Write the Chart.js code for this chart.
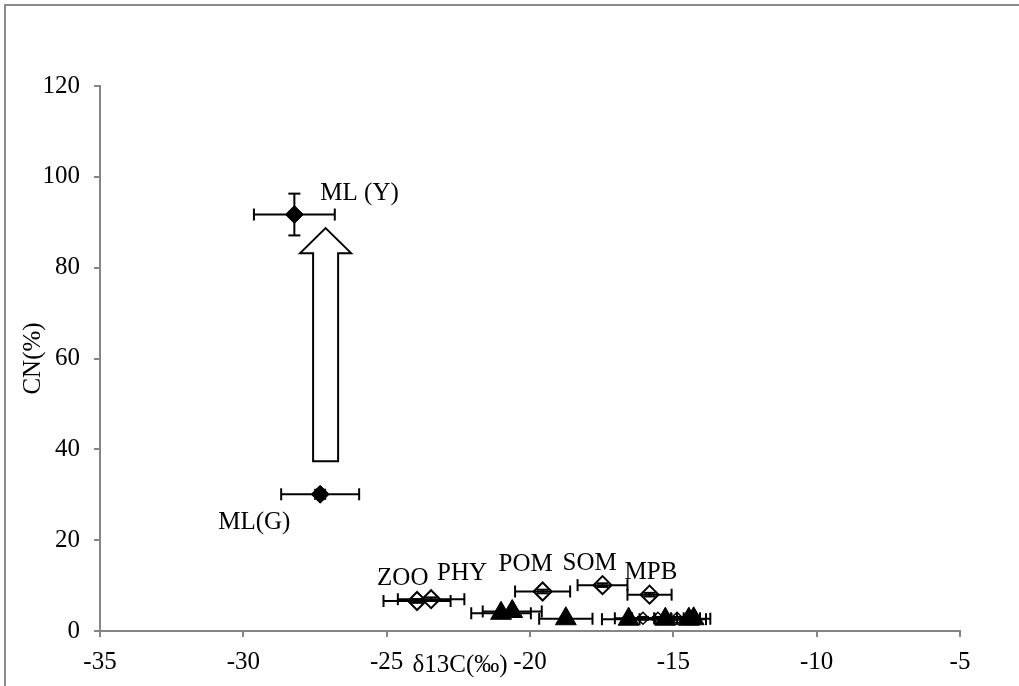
<!DOCTYPE html>
<html>
<head>
<meta charset="utf-8">
<script src="https://cdn.jsdelivr.net/npm/chart.js@4.4.1/dist/chart.umd.min.js"></script>
<style>
    html, body { margin: 0; padding: 0; background: #fff; overflow: hidden; }
    canvas { display: block; }
</style>
</head>
<body>
<canvas id="isotopeChart" width="1019" height="686"></canvas>
<script>
// macroalgae leaves, young (Y) and grown (G)
const mlNames = ['ML (Y)', 'ML(G)'];
const mlD13C = [-28.22, -27.32];
const mlD13CErr = [1.41, 1.36];
const mlCN = [91.7, 30.1];
const mlCNErr = [4.6, 1.0];

// food sources
const srcNames = ['ZOO', 'PHY', 'POM', 'SOM', 'MPB'];
const srcD13C = [-23.94, -23.45, -19.56, -17.47, -15.83];
const srcD13CErr = [1.17, 1.16, 0.96, 0.87, 0.77];
const srcCN = [6.6, 7.0, 8.7, 10.1, 8.0];
const srcCNErr = [0.4, 0.4, 0.4, 0.4, 0.4];

// consumers, open markers (mostly covered by the triangles)
const conOpenD13C = [-16.06, -15.54, -14.87];
const conOpenD13CErr = [0.98, 0.9, 0.8];
const conOpenCN = [2.8, 2.8, 2.8];
const conOpenCNErr = [0.3, 0.3, 0.3];

// consumers, filled triangles
const conD13C = [-21.01, -20.62, -18.75, -16.56, -15.28, -14.46, -14.29];
const conD13CErr = [1.04, 1.03, 0.93, 0.93, 0.9, 0.6, 0.58];
const conCN = [3.9, 4.3, 2.7, 2.6, 2.6, 2.6, 2.7];
const conCNErr = [0.4, 0.4, 0.4, 0.4, 0.4, 0.4, 0.4];

// ML(G) -> ML(Y) shift arrow
const shiftD13C = -27.13;
const shiftCNFrom = 37.4;
const shiftCNTo = 88.7;

const xTicks = [-35, -30, -25, -20, -15, -10, -5];
const yTicks = [0, 20, 40, 60, 80, 100, 120];

// label placement: pixel offset of the text's left edge / middle from its point
const labelOffsets = {
    'ML (Y)': [26, -21],
    'ML(G)': [-102, 28],
    'ZOO': [-40, -23],
    'PHY': [6, -26],
    'POM': [-44, -27],
    'SOM': [-40, -22],
    'MPB': [-25, -22]
};

const SERIF = "'Liberation Serif', 'Times New Roman', serif";
const AXIS_GREY = '#868686';

const toPoints = (xs, ys) => xs.map((v, i) => ({x: v, y: ys[i]}));

const errorBars = {
    id: 'errorBars',
    beforeDatasetsDraw(chart) {
        const {ctx, scales: {x, y}} = chart;
        const cap = 6;
        ctx.save();
        ctx.strokeStyle = '#000';
        ctx.lineWidth = 2;
        const seg = (x1, y1, x2, y2) => {
            ctx.beginPath();
            ctx.moveTo(x1, y1);
            ctx.lineTo(x2, y2);
            ctx.stroke();
        };
        chart.data.datasets.forEach(ds => {
            ds.data.forEach((p, i) => {
                const px = x.getPixelForValue(p.x);
                const py = y.getPixelForValue(p.y);
                if (ds.errX) {
                    const l = x.getPixelForValue(p.x - ds.errX[i]);
                    const r = x.getPixelForValue(p.x + ds.errX[i]);
                    seg(l, py, r, py);
                    seg(l, py - cap, l, py + cap);
                    seg(r, py - cap, r, py + cap);
                }
                if (ds.errY) {
                    const t = y.getPixelForValue(p.y + ds.errY[i]);
                    const b = y.getPixelForValue(p.y - ds.errY[i]);
                    seg(px, t, px, b);
                    seg(px - cap, t, px + cap, t);
                    seg(px - cap, b, px + cap, b);
                }
            });
        });
        ctx.restore();
    }
};

const shiftArrow = {
    id: 'shiftArrow',
    afterDatasetsDraw(chart) {
        const {ctx, scales: {x, y}} = chart;
        const cx = x.getPixelForValue(shiftD13C);
        const bottom = y.getPixelForValue(shiftCNFrom);
        const tip = y.getPixelForValue(shiftCNTo);
        const shaftHalf = 12.5, headHalf = 25.5, headLen = 25;
        ctx.save();
        ctx.beginPath();
        ctx.moveTo(cx - shaftHalf, bottom);
        ctx.lineTo(cx - shaftHalf, tip + headLen);
        ctx.lineTo(cx - headHalf, tip + headLen);
        ctx.lineTo(cx, tip);
        ctx.lineTo(cx + headHalf, tip + headLen);
        ctx.lineTo(cx + shaftHalf, tip + headLen);
        ctx.lineTo(cx + shaftHalf, bottom);
        ctx.closePath();
        ctx.fillStyle = '#fff';
        ctx.fill();
        ctx.strokeStyle = '#000';
        ctx.lineWidth = 2;
        ctx.stroke();
        ctx.restore();
    }
};

const pointLabels = {
    id: 'pointLabels',
    afterDatasetsDraw(chart) {
        const {ctx} = chart;
        ctx.save();
        ctx.font = `25px ${SERIF}`;
        ctx.fillStyle = '#000';
        ctx.textAlign = 'left';
        ctx.textBaseline = 'middle';
        chart.data.datasets.forEach((ds, di) => {
            if (!ds.names) return;
            const meta = chart.getDatasetMeta(di);
            ds.names.forEach((name, i) => {
                const el = meta.data[i];
                const off = labelOffsets[name] || [8, -20];
                ctx.fillText(name, el.x + off[0], el.y + off[1]);
            });
        });
        ctx.restore();
    }
};

const frameAndTitle = {
    id: 'frameAndTitle',
    beforeDraw(chart) {
        const {ctx, width, height} = chart;
        ctx.save();
        ctx.strokeStyle = '#8c8c8c';
        ctx.lineWidth = 2;
        ctx.beginPath();
        ctx.moveTo(5, height);
        ctx.lineTo(5, 5);
        ctx.lineTo(width, 5);
        ctx.stroke();
        ctx.restore();
    },
    afterDraw(chart) {
        const {ctx, chartArea} = chart;
        ctx.save();
        ctx.font = `25px ${SERIF}`;
        ctx.fillStyle = '#000';
        ctx.textAlign = 'center';
        ctx.textBaseline = 'middle';
        ctx.fillText('\u03b413C(\u2030)', chartArea.left + 360, chartArea.bottom + 34);
        ctx.restore();
    }
};

const tickFont = {family: SERIF, size: 25};

new Chart(document.getElementById('isotopeChart'), {
    type: 'scatter',
    data: {
        datasets: [
            {
                label: 'ML',
                data: toPoints(mlD13C, mlCN),
                names: mlNames,
                errX: mlD13CErr,
                errY: mlCNErr,
                pointStyle: 'rectRot',
                pointRadius: 9,
                backgroundColor: '#000',
                borderColor: '#000',
                borderWidth: 1
            },
            {
                label: 'Sources',
                data: toPoints(srcD13C, srcCN),
                names: srcNames,
                errX: srcD13CErr,
                errY: srcCNErr,
                pointStyle: 'rectRot',
                pointRadius: 9,
                backgroundColor: 'rgba(0,0,0,0)',
                borderColor: '#000',
                borderWidth: 2
            },
            {
                label: 'Consumers (open)',
                data: toPoints(conOpenD13C, conOpenCN),
                errX: conOpenD13CErr,
                errY: conOpenCNErr,
                pointStyle: 'rectRot',
                pointRadius: 6,
                backgroundColor: 'rgba(0,0,0,0)',
                borderColor: '#000',
                borderWidth: 1.5
            },
            {
                label: 'Consumers',
                data: toPoints(conD13C, conCN),
                errX: conD13CErr,
                errY: conCNErr,
                pointStyle: 'triangle',
                pointRadius: 12,
                backgroundColor: '#000',
                borderColor: '#000',
                borderWidth: 1
            }
        ]
    },
    options: {
        responsive: false,
        animation: false,
        layout: {
            padding: {left: 0, right: 59, top: 86, bottom: 0}
        },
        plugins: {
            legend: {display: false},
            tooltip: {enabled: false}
        },
        scales: {
            x: {
                type: 'linear',
                min: -35,
                max: -5,
                afterBuildTicks: s => { s.ticks = xTicks.map(v => ({value: v})); },
                afterFit: s => { s.height = 55; },
                border: {color: AXIS_GREY, width: 2},
                grid: {drawOnChartArea: false, drawTicks: true, tickLength: 6, color: AXIS_GREY, lineWidth: 2},
                ticks: {color: '#000', font: tickFont, padding: 10, maxRotation: 0}
            },
            y: {
                type: 'linear',
                min: 0,
                max: 120,
                afterBuildTicks: s => { s.ticks = yTicks.map(v => ({value: v})); },
                afterFit: s => { s.width = 100; },
                border: {color: AXIS_GREY, width: 2},
                grid: {drawOnChartArea: false, drawTicks: true, tickLength: 6, color: AXIS_GREY, lineWidth: 2},
                ticks: {color: '#000', font: tickFont, padding: 14},
                title: {
                    display: true,
                    text: 'CN(%)',
                    color: '#000',
                    font: {family: SERIF, size: 25},
                    padding: {top: 18, bottom: 0}
                }
            }
        }
    },
    plugins: [errorBars, shiftArrow, pointLabels, frameAndTitle]
});
</script>
</body>
</html>
